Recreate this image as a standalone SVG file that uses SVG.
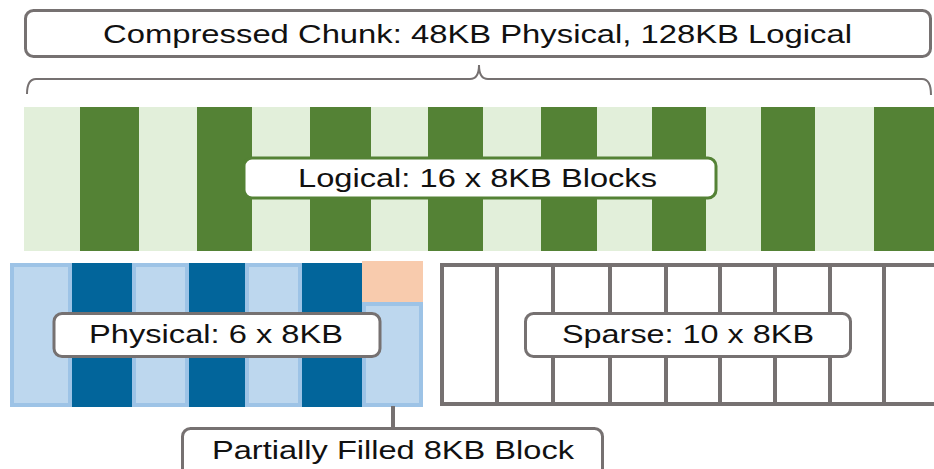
<svg xmlns="http://www.w3.org/2000/svg" width="934" height="469" viewBox="0 0 934 469">
<style>
.lbl{font-family:"Liberation Sans",Arial,sans-serif;font-size:25px;fill:#111}
.gbox{fill:#fff;stroke:#767171;stroke-width:3}
.lg{fill:#E2EFDA}
.dg{fill:#548235}
.lb{fill:#BDD7EE;stroke:#9DC3E6;stroke-width:4}
.db{fill:#02659B}
.grid{stroke:#767171;stroke-width:4;fill:none}
</style>
<rect width="934" height="469" fill="#fff"/>

<g id="logical-blocks">
<rect class="lg" x="24" y="107" width="910" height="144"/>
<rect class="dg" x="80" y="107" width="59" height="144"/>
<rect class="dg" x="197" y="107" width="55" height="144"/>
<rect class="dg" x="310" y="107" width="61" height="144"/>
<rect class="dg" x="428" y="107" width="55" height="144"/>
<rect class="dg" x="541" y="107" width="56" height="144"/>
<rect class="dg" x="652" y="107" width="54" height="144"/>
<rect class="dg" x="761" y="107" width="54" height="144"/>
<rect class="dg" x="874" y="107" width="60" height="144"/>
</g>

<g id="physical-blocks">
<rect class="lb" x="12" y="265" width="58" height="140"/>
<rect class="lb" x="134" y="265" width="53" height="140"/>
<rect class="lb" x="247" y="265" width="53" height="140"/>
<rect class="db" x="72" y="263" width="60" height="144"/>
<rect class="db" x="189" y="263" width="56" height="144"/>
<rect class="db" x="302" y="263" width="60" height="144"/>
<rect fill="#F8CBAD" x="362" y="261" width="61" height="41"/>
<rect class="lb" x="364" y="304" width="57" height="101"/>
</g>

<g id="sparse-blocks">
<rect class="grid" x="442" y="265" width="520" height="139"/>
<path class="grid" d="M497,265V404M553,265V404M610,265V404M666,265V404M720,265V404M775,265V404M830,265V404M884,265V404"/>
</g>

<g id="connectors">
<path d="M27,94 Q27,79 36,79 L470,79 Q479,79 479,65 Q479,79 488,79 L922,79 Q931,79 931,95" fill="none" stroke="#767171" stroke-width="2"/>
<line x1="393" y1="406" x2="393" y2="428" stroke="#767171" stroke-width="4"/>
</g>

<g id="chunk-label">
<rect class="gbox" x="25.5" y="10.5" width="905" height="46" rx="8"/>
<text class="lbl" x="103" y="43" textLength="749" lengthAdjust="spacingAndGlyphs">Compressed Chunk: 48KB Physical, 128KB Logical</text>
</g>

<g id="logical-label">
<rect x="244" y="158" width="472" height="40" rx="8" fill="#fff" stroke="#548235" stroke-width="3"/>
<text class="lbl" x="298" y="187" textLength="359" lengthAdjust="spacingAndGlyphs">Logical: 16 x 8KB Blocks</text>
</g>

<g id="physical-label">
<rect class="gbox" x="54" y="313.5" width="326" height="43" rx="8"/>
<text class="lbl" x="89" y="343" textLength="254" lengthAdjust="spacingAndGlyphs">Physical: 6 x 8KB</text>
</g>

<g id="sparse-label">
<rect class="gbox" x="525.5" y="313.5" width="325" height="43" rx="8"/>
<text class="lbl" x="562" y="343" textLength="252" lengthAdjust="spacingAndGlyphs">Sparse: 10 x 8KB</text>
</g>

<g id="partial-label">
<rect class="gbox" x="182.5" y="428.5" width="420" height="52" rx="8"/>
<text class="lbl" x="212" y="459" textLength="362" lengthAdjust="spacingAndGlyphs">Partially Filled 8KB Block</text>
</g>
</svg>
